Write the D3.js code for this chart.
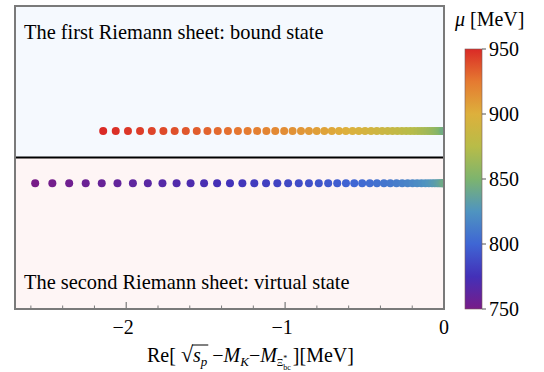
<!DOCTYPE html>
<html>
<head>
<meta charset="utf-8">
<script src="https://cdn.jsdelivr.net/npm/d3@7"></script>
<style>
  body { margin: 0; background: #fff; }
  svg { font-family: "Liberation Serif", "DejaVu Serif", serif; }
</style>
</head>
<body>
<svg width="544" height="372"></svg>
<script>
// mu [MeV] for each pole point, first sheet (bound) and second sheet (virtual)
const muBound = [950,948,946,944,942,940,938,936,934,932,930,928,926,924,922,920,918,916,914,912,
  910,908,906,904,902,900,898,896,894,892,890,888,886,884,882,880,878,876,874,872,
  870,868,866,864,862,860,858,856,854,852,850,848,846,844];
const eBound = [-2.145,-2.066,-1.989,-1.913,-1.839,-1.766,-1.695,-1.625,-1.556,-1.489,-1.424,-1.360,-1.297,-1.236,-1.176,-1.118,-1.062,-1.006,-0.953,-0.900,
  -0.850,-0.801,-0.753,-0.706,-0.661,-0.618,-0.576,-0.536,-0.497,-0.459,-0.423,-0.389,-0.355,-0.324,-0.294,-0.265,-0.238,-0.212,-0.188,-0.165,
  -0.144,-0.124,-0.105,-0.089,-0.073,-0.059,-0.047,-0.036,-0.026,-0.018,-0.012,-0.007,-0.003,-0.001];

const muVirtual = [750,752,754,756,758,760,762,764,766,768,770,772,774,776,778,780,782,784,786,788,
  790,792,794,796,798,800,802,804,806,808,810,812,814,816,818,820,822,824,826,828,
  830,832,834,836,838,840,842];
const eVirtual = [-2.573,-2.465,-2.359,-2.255,-2.154,-2.055,-1.958,-1.864,-1.772,-1.683,-1.595,-1.510,-1.428,-1.347,-1.269,-1.194,-1.120,-1.049,-0.981,-0.914,
  -0.850,-0.788,-0.729,-0.672,-0.617,-0.565,-0.515,-0.467,-0.422,-0.378,-0.338,-0.299,-0.263,-0.229,-0.198,-0.169,-0.142,-0.117,-0.095,-0.075,
  -0.058,-0.042,-0.030,-0.019,-0.011,-0.005,-0.001];

// vertical placement of the two sheets (no y axis in the figure)
const sheetY = [0.175, -0.17];

const xTicks = [-2, -1, 0];
const cbTicks = [750, 800, 850, 900, 950];
const rainbow = ["#781c88", "#4330b8", "#3f66d4", "#4f94c0", "#7db46e", "#b8bc48", "#ddb03c", "#e57a31", "#da2a26"];

const svg = d3.select('svg');
const margin = {left: 15, right: 444, top: 6, bottom: 309};

const x = d3.scaleLinear().domain([-2.7, 0]).range([margin.left, margin.right]);
const y = d3.scaleLinear().domain([-1, 1]).range([margin.bottom, margin.top]);
const color = d3.scaleLinear()
    .domain(d3.range(rainbow.length).map(i => 750 + i * 200 / (rainbow.length - 1)))
    .range(rainbow)
    .interpolate(d3.interpolateRgb);

svg.append('defs').append('clipPath').attr('id', 'plotclip')
    .append('rect')
    .attr('x', margin.left).attr('y', margin.top)
    .attr('width', margin.right - margin.left).attr('height', margin.bottom - margin.top);

/////////////////////////////
// BACKGROUND
/////////////////////////////
svg.append('rect')
    .attr('x', x(-2.7)).attr('y', y(1))
    .attr('width', x(0) - x(-2.7)).attr('height', y(0) - y(1))
    .attr('fill', '#f5f9fe');
svg.append('rect')
    .attr('x', x(-2.7)).attr('y', y(0))
    .attr('width', x(0) - x(-2.7)).attr('height', y(-1) - y(0))
    .attr('fill', '#fef5f5');

svg.append('line')
    .attr('x1', x(-2.7)).attr('x2', x(0))
    .attr('y1', y(0)).attr('y2', y(0))
    .attr('stroke', '#000').attr('stroke-width', 2);

/////////////////////////////
// POINTS
/////////////////////////////
const bound = muBound.map((m, i) => ({mu: m, e: eBound[i], s: sheetY[0]}));
const virt = muVirtual.map((m, i) => ({mu: m, e: eVirtual[i], s: sheetY[1]}));

svg.append('g')
    .attr('clip-path', 'url(#plotclip)')
    .selectAll('circle')
    .data(bound.concat(virt))
    .enter()
    .append('circle')
        .attr('cx', d => x(d.e))
        .attr('cy', d => y(d.s))
        .attr('r', 4)
        .attr('fill', d => color(d.mu));

/////////////////////////////
// FRAME + AXIS
/////////////////////////////
svg.append('rect')
    .attr('x', margin.left).attr('y', margin.top)
    .attr('width', margin.right - margin.left).attr('height', margin.bottom - margin.top)
    .attr('fill', 'none').attr('stroke', '#7a7a7a').attr('stroke-width', 2);

const minor = d3.range(-2.6, 0.01, 0.2).filter(v => Math.abs(v - Math.round(v)) > 0.01);
svg.append('g')
    .selectAll('line')
    .data(minor)
    .enter()
    .append('line')
        .attr('x1', d => x(d)).attr('x2', d => x(d))
        .attr('y1', margin.bottom).attr('y2', margin.bottom - 3.5)
        .attr('stroke', '#7a7a7a').attr('stroke-width', 1);
svg.append('g')
    .selectAll('line')
    .data(xTicks)
    .enter()
    .append('line')
        .attr('x1', d => x(d)).attr('x2', d => x(d))
        .attr('y1', margin.bottom).attr('y2', margin.bottom - 7)
        .attr('stroke', '#7a7a7a').attr('stroke-width', 1.2);
svg.append('g')
    .selectAll('text')
    .data(xTicks)
    .enter()
    .append('text')
        .attr('x', d => x(d) - (d < 0 ? 3 : 0))
        .attr('y', 334)
        .attr('text-anchor', 'middle')
        .attr('font-size', 20)
        .text(d => d < 0 ? '\u2212' + Math.abs(d) : d);

// axis label
const lab = svg.append('text')
    .attr('x', 147).attr('y', 362)
    .attr('font-size', 20);
lab.append('tspan').text('Re[ ');
lab.append('tspan').text('\u221A').attr('font-size', 22);
lab.append('tspan').text('s').attr('font-style', 'italic');
lab.append('tspan').text('p').attr('font-style', 'italic').attr('font-size', 13).attr('dy', 4);
lab.append('tspan').text(' \u2212').attr('dy', -4);
lab.append('tspan').text('M').attr('font-style', 'italic');
lab.append('tspan').text('K').attr('font-style', 'italic').attr('font-size', 13).attr('dy', 4);
lab.append('tspan').text('\u2212').attr('dy', -4);
lab.append('tspan').text('M').attr('font-style', 'italic');
lab.append('tspan').text('\u039E').attr('font-size', 10).attr('dy', 4);
lab.append('tspan').text('*').attr('font-size', 8).attr('dy', -5);
lab.append('tspan').text('bc').attr('font-size', 8).attr('dx', -4).attr('dy', 9);
lab.append('tspan').text('][MeV]').attr('dx', 2).attr('dy', -8);
// overline of the square root, over "s_p"
const ln = lab.node();
const sx0 = ln.getStartPositionOfChar(4).x + 11;
const sx1 = ln.getEndPositionOfChar(6).x + 1;
svg.append('line')
    .attr('x1', sx0).attr('x2', sx1).attr('y1', 345).attr('y2', 345)
    .attr('stroke', '#000').attr('stroke-width', 1);

// sheet captions
svg.append('text').attr('x', 24).attr('y', 39).attr('font-size', 20.4)
    .text('The first Riemann sheet: bound state');
svg.append('text').attr('x', 24).attr('y', 289).attr('font-size', 20.4)
    .text('The second Riemann sheet: virtual state');

/////////////////////////////
// COLORBAR
/////////////////////////////
const cb = d3.scaleLinear().domain([750, 950]).range([309, 49]);
const grad = svg.append('defs').append('linearGradient')
    .attr('id', 'cbgrad').attr('x1', 0).attr('x2', 0).attr('y1', 1).attr('y2', 0);
rainbow.forEach((c, i) => {
    grad.append('stop').attr('offset', i / (rainbow.length - 1)).attr('stop-color', c);
});
svg.append('rect')
    .attr('x', 465).attr('y', cb(950))
    .attr('width', 17).attr('height', cb(750) - cb(950))
    .attr('fill', 'url(#cbgrad)')
    .attr('stroke', '#7a5a5a').attr('stroke-width', 0.6);
svg.append('g')
    .selectAll('line')
    .data(cbTicks)
    .enter()
    .append('line')
        .attr('x1', 482).attr('x2', 486)
        .attr('y1', d => cb(d)).attr('y2', d => cb(d))
        .attr('stroke', '#555');
svg.append('g')
    .selectAll('text')
    .data(cbTicks)
    .enter()
    .append('text')
        .attr('x', 489)
        .attr('y', d => cb(d) + 7)
        .attr('font-size', 20)
        .text(d => d);

const cbt = svg.append('text').attr('x', 455).attr('y', 26).attr('font-size', 20);
cbt.append('tspan').text('\u03BC').attr('font-style', 'italic');
cbt.append('tspan').text(' [MeV]');
</script>
</body>
</html>
